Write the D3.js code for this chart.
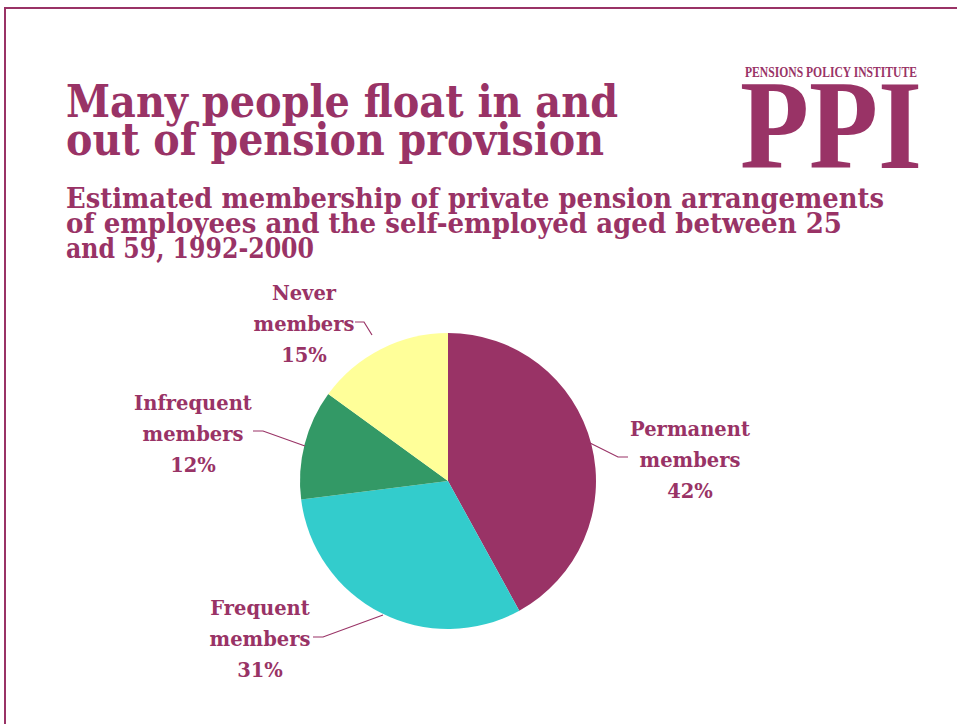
<!DOCTYPE html>
<html>
<head>
<meta charset="utf-8">
<script src="https://cdn.jsdelivr.net/npm/d3@7/dist/d3.min.js"></script>
<style>
  html, body { margin: 0; padding: 0; background: #fff; }
  svg { display: block; }
</style>
</head>
<body>
<svg id="chart" width="957" height="724"></svg>
<script>
// Membership categories, clockwise from 12 o'clock
const categories = ["Permanent members", "Frequent members", "Infrequent members", "Never members"];
const shares = [42, 31, 12, 15];
const sliceColors = ["#993366", "#33CCCC", "#339966", "#FFFF99"];

const titleLines = ["Many people float in and", "out of pension provision"];
const subtitleLines = [
  "Estimated membership of private pension arrangements",
  "of employees and the self-employed aged between 25",
  "and 59, 1992-2000"
];

const brand = "#993366";
const serif = "'DejaVu Serif', 'Liberation Serif', serif";

const svg = d3.select("#chart");

// Frame: top and left rules
svg.append("line").attr("x1", 4).attr("y1", 8).attr("x2", 957).attr("y2", 8)
  .attr("stroke", brand).attr("stroke-width", 2);
svg.append("line").attr("x1", 5).attr("y1", 7).attr("x2", 5).attr("y2", 724)
  .attr("stroke", brand).attr("stroke-width", 2);

// Fit a text element to a given width
function fit(sel, w) {
  sel.attr("textLength", w).attr("lengthAdjust", "spacingAndGlyphs");
}

// Title
const titleWidths = [552, 538];
titleLines.forEach((t, i) => {
  svg.append("text").attr("x", 66).attr("y", 117 + i * 38)
    .attr("font-family", serif).attr("font-weight", "bold").attr("font-size", 44)
    .attr("fill", brand).text(t).call(fit, titleWidths[i]);
});

// Subtitle
const subWidths = [818, 776, 248];
subtitleLines.forEach((t, i) => {
  svg.append("text").attr("x", 66).attr("y", 208 + i * 25)
    .attr("font-family", serif).attr("font-weight", "bold").attr("font-size", 28)
    .attr("fill", brand).text(t).call(fit, subWidths[i]);
});

// Logo
svg.append("text").attr("x", 745).attr("y", 77)
  .attr("font-family", "'Liberation Serif', serif").attr("font-weight", "bold").attr("font-size", 14)
  .attr("fill", brand).text("PENSIONS POLICY INSTITUTE").call(fit, 172);
svg.append("text").attr("x", 740).attr("y", 168)
  .attr("font-family", "'Liberation Serif', serif").attr("font-weight", "bold").attr("font-size", 128)
  .attr("fill", brand).text("PPI").call(fit, 182);

// Pie
const cx = 448, cy = 481, r = 148;
const data = categories.map((c, i) => ({ name: c, value: shares[i], color: sliceColors[i] }));
const pie = d3.pie().value(d => d.value).sort(null);
const arc = d3.arc().innerRadius(0).outerRadius(r);
const g = svg.append("g").attr("transform", `translate(${cx},${cy})`);
g.selectAll("path").data(pie(data)).join("path")
  .attr("d", arc).attr("fill", d => d.data.color);

// Label placement and leader lines (text centre x, first baseline, leader polyline)
const labelLayout = {
  "Permanent members": { x: 690, y: 436, leader: [[628, 457], [618, 457], [590, 443]] },
  "Frequent members": { x: 260, y: 615, leader: [[313, 637], [323, 637], [383, 615]] },
  "Infrequent members": { x: 193, y: 410, leader: [[253, 431], [263, 431], [305, 446]] },
  "Never members": { x: 304, y: 300, leader: [[355, 322], [364, 322], [372, 335]] }
};

data.forEach(d => {
  const L = labelLayout[d.name];
  const words = d.name.split(" ");
  const lines = [words[0], words[1], d.value + "%"];
  const t = svg.append("text").attr("text-anchor", "middle")
    .attr("font-family", serif).attr("font-weight", "bold").attr("font-size", 19.5)
    .attr("fill", brand);
  lines.forEach((ln, i) => {
    t.append("tspan").attr("x", L.x).attr("y", L.y + i * 31).text(ln);
  });
  svg.append("path").attr("d", d3.line()(L.leader))
    .attr("fill", "none").attr("stroke", brand).attr("stroke-width", 1.2);
});
</script>
</body>
</html>
